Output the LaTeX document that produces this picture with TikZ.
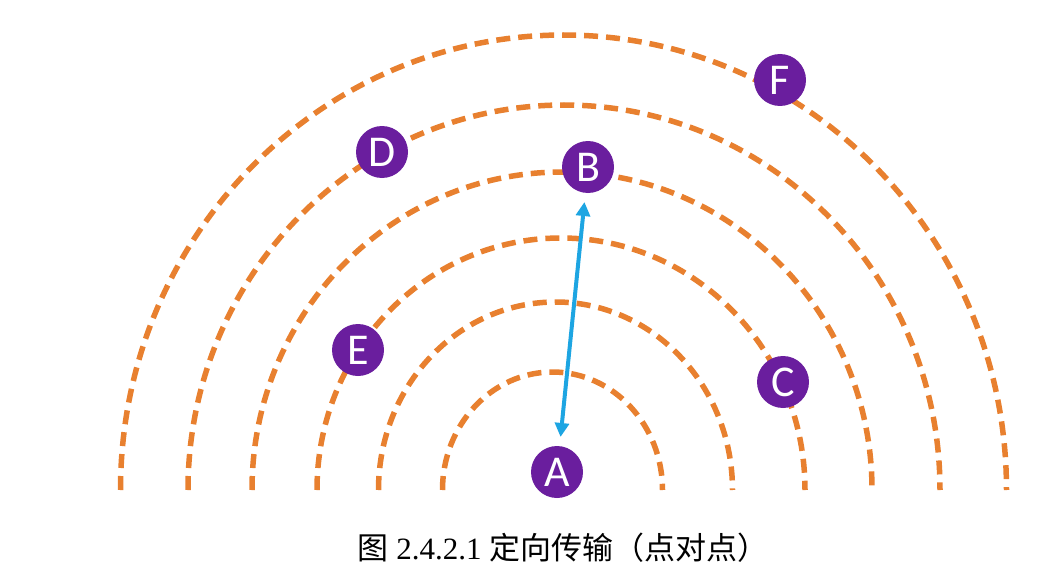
\documentclass[tikz,border=0pt]{standalone}
\usepackage{fontspec}
\setmainfont{Liberation Serif}
\newfontfamily\cjk{Noto Sans CJK SC}
\newfontfamily\lettfont{Carlito}
\usetikzlibrary{arrows.meta}
\definecolor{arcorange}{HTML}{E8802F}
\definecolor{ptpurple}{HTML}{6A1E9E}
\definecolor{linkblue}{HTML}{1DA5E2}
\begin{document}
\begin{tikzpicture}[x=1pt,y=-1pt,
  arcline/.style={draw=arcorange, line width=5.5pt, dash pattern=on 14pt off 8pt},
  pt/.style={circle, fill=ptpurple, minimum size=52pt, inner sep=0pt, text=white,
    font=\lettfont\fontsize{44}{44}\selectfont},
  link/.style={draw=linkblue, line width=4pt, {Triangle[length=14pt,width=14pt]}-{Triangle[length=14pt,width=14pt]}, shorten <=9pt, shorten >=9pt}]
\useasboundingbox (0,0) rectangle (1053,586);
% concentric dashed arcs
\draw[arcline] (442.5,490) arc[start angle=180, end angle=360, x radius=110, y radius=118];
\draw[arcline] (378.5,490) arc[start angle=180, end angle=360, x radius=177, y radius=188];
\draw[arcline] (317,490) arc[start angle=180, end angle=360, x radius=244, y radius=252];
\draw[arcline] (252,490) arc[start angle=180, end angle=360, x radius=310, y radius=318];
\draw[arcline] (188,490) arc[start angle=180, end angle=360, x radius=376, y radius=385];
\draw[arcline] (120.5,490) arc[start angle=180, end angle=360, x radius=443, y radius=455];
% points
\node[pt] (A) at (557,472) {A};
\node[pt] (B) at (588,167) {B};
\node[pt] (C) at (783,382) {C};
\node[pt] (D) at (382,152) {D};
\node[pt] (E) at (358,350) {E};
\node[pt] (F) at (780,80) {F};
% link
\draw[link] (A) -- (B);
% caption
\node (cap) at (563,548) {\fontsize{31}{31}\selectfont{\cjk 图} 2.4.2.1 {\cjk 定向传输（点对点）}};
\end{tikzpicture}
\end{document}
